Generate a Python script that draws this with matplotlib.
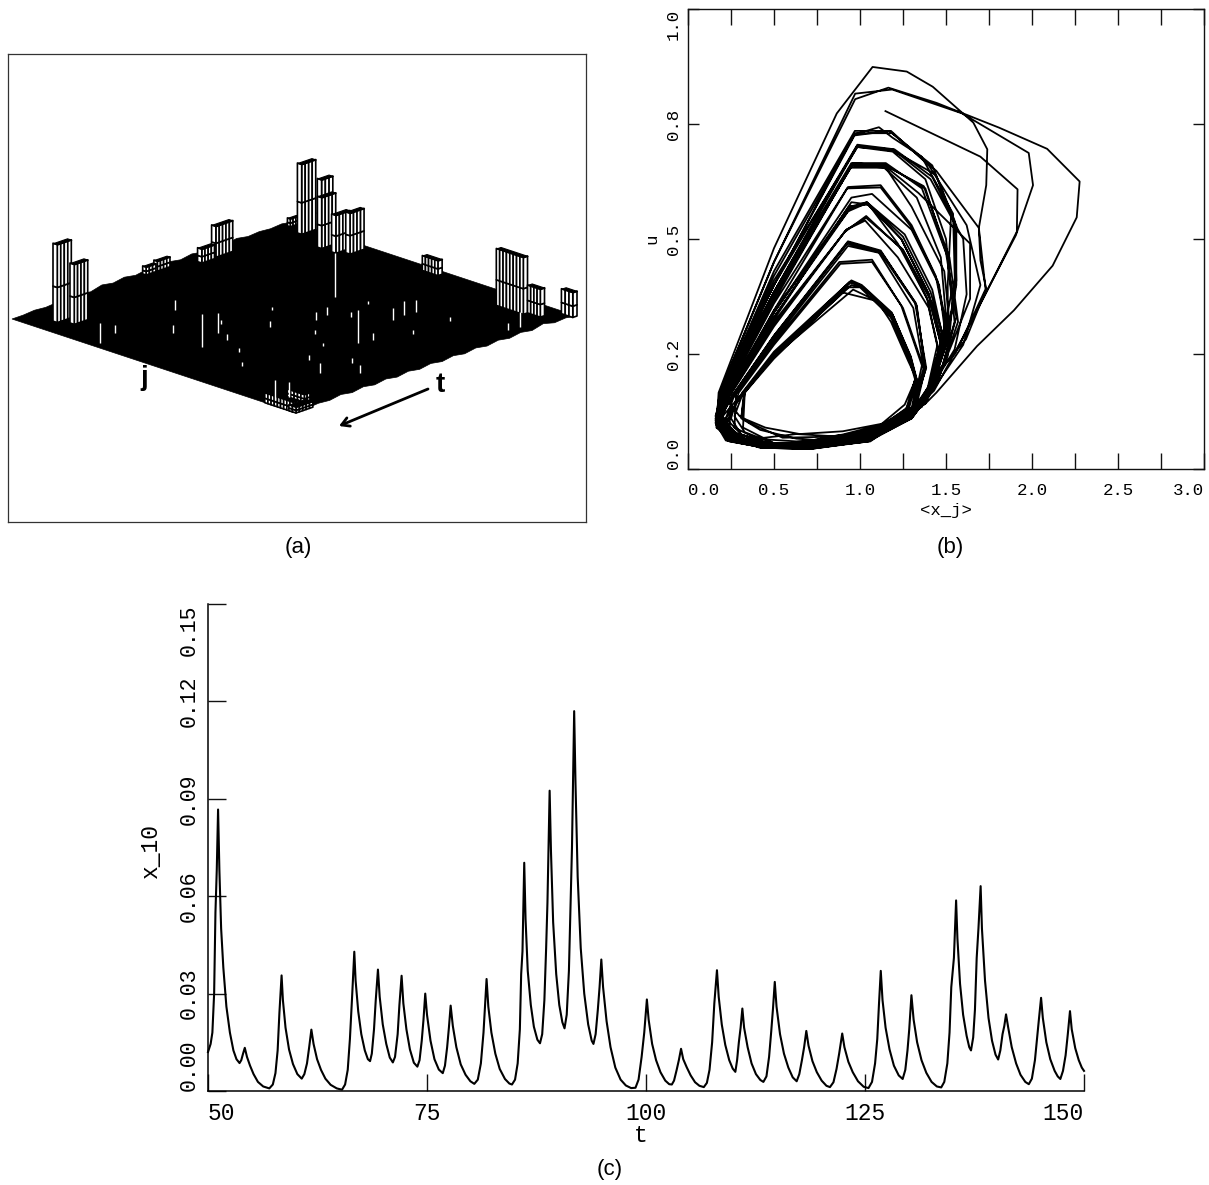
import numpy as np
import matplotlib
matplotlib.use("Agg")
import matplotlib.pyplot as plt
from matplotlib.collections import PolyCollection

W, H = 1209, 1185
MONO = ["Liberation Mono", "DejaVu Sans Mono"]
SANS = ["Liberation Sans", "DejaVu Sans"]
INK = "#111111"

# ---------- panel (c): x_10 against t ----------
t_vals = [50,50.3,50.5,50.7,50.85,51.0,51.15,
 51.3,51.5,51.75,52.1,52.5,52.9,53.25,53.6,53.8,54.0,54.2,54.45,54.8,55.2,55.7,56.3,57,57.4,57.7,57.95,58.15,58.4,
 58.55,58.85,59.25,59.7,60.2,60.7,61.0,61.3,61.55,61.8,
 62.05,62.45,62.9,63.4,64.0,64.7,65.3,65.65,65.95,66.2,66.45,66.7,
 66.85,67.15,67.5,67.9,68.25,68.5,68.7,68.95,69.15,69.4,
 69.6,69.95,70.35,70.75,71.1,71.35,71.65,71.85,72.1,
 72.3,72.65,73.05,73.5,73.9,74.15,74.4,74.6,74.8,
 75.0,75.4,75.85,76.35,76.8,77.05,77.3,77.5,77.7,
 77.95,78.35,78.85,79.4,79.95,80.4,80.8,81.15,81.45,81.6,81.8,
 82.0,82.35,82.8,83.3,83.9,84.4,84.7,85.05,85.35,85.6,85.75,85.9,86.1,
 86.25,86.5,86.85,87.2,87.6,87.9,88.15,88.4,88.6,88.75,88.85,89.0,
 89.15,89.4,89.75,90.1,90.45,90.7,90.95,91.2,91.4,91.55,91.65,91.8,
 91.95,92.2,92.55,92.95,93.4,93.8,94.0,94.25,94.5,94.7,94.9,
 95.1,95.5,95.95,96.5,97.1,97.7,98.3,98.8,99.15,99.5,99.8,100.1,
 100.3,100.7,101.15,101.65,102.2,102.65,102.95,103.2,103.5,103.75,104.0,
 104.25,104.65,105.1,105.6,106.1,106.6,106.95,107.25,107.55,107.8,108.1,
 108.3,108.65,109.05,109.5,109.9,110.2,110.4,110.6,110.8,111.0,
 111.2,111.6,112.05,112.55,113.05,113.4,113.75,114.05,114.3,114.5,114.7,
 114.9,115.3,115.75,116.25,116.75,117.2,117.5,117.8,118.05,118.3,
 118.55,119.0,119.5,120.05,120.6,121,121.4,121.75,122.05,122.4,
 122.65,123.1,123.6,124.2,124.85,125.4,125.8,126.15,126.4,126.6,126.8,
 127.0,127.35,127.8,128.3,128.85,129.3,129.6,129.85,130.05,130.3,
 130.55,130.95,131.45,132,132.6,133.2,133.7,134.05,134.4,134.65,134.85,135.15,135.4,
 135.55,135.85,136.2,136.6,136.9,137.1,137.35,137.55,137.75,137.95,138.2,
 138.35,138.7,139.1,139.5,139.9,140.2,140.45,140.7,140.9,141.1,
 141.35,141.75,142.25,142.75,143.3,143.7,144.05,144.4,144.65,144.85,145.1,
 145.3,145.7,146.15,146.65,147.0,147.3,147.6,147.9,148.15,148.4,
 148.6,149,149.4,149.75,150]
x10_vals = [.012,.0145,.018,.03,.055,.068,.0867,
 .068,.05,.038,.026,.018,.0125,.0098,.0086,.0095,.0115,.0133,.0105,.0078,.0052,.0028,.0014,.0008,.002,.0055,.0125,.024,.0356,
 .028,.0195,.0128,.0083,.0052,.0038,.0052,.0085,.0135,.0189,
 .0145,.0098,.0065,.0038,.0019,.0008,.0004,.002,.0065,.016,.029,.0429,
 .034,.0245,.0175,.0125,.0098,.0092,.0115,.019,.028,.0374,
 .029,.0205,.0145,.0103,.0088,.0105,.0175,.0265,.0355,
 .027,.019,.0128,.0087,.0075,.0095,.0155,.022,.03,
 .0235,.0155,.0098,.0066,.0055,.0078,.0135,.0195,.0263,
 .02,.0135,.0082,.005,.003,.0022,.0035,.0085,.018,.025,.0345,
 .026,.018,.0115,.0068,.0037,.0023,.002,.0035,.0085,.019,.036,.043,.0703,
 .053,.037,.0265,.0198,.0158,.0147,.0175,.028,.044,.058,.072,.0925,
 .074,.052,.036,.0265,.0212,.0193,.0235,.037,.058,.075,.092,.117,
 .095,.066,.044,.030,.0205,.0155,.0145,.0175,.025,.032,.0405,
 .032,.0215,.0135,.0072,.0035,.0017,.0009,.001,.0035,.0105,.018,.0282,
 .022,.0145,.0095,.0058,.0032,.0021,.002,.0032,.0065,.0095,.013,
 .0098,.0073,.0048,.0027,.0016,.0012,.0025,.0065,.015,.027,.0372,
 .029,.0205,.0142,.0095,.0069,.0059,.0095,.015,.0195,.0254,
 .0195,.0135,.0085,.0052,.0034,.0028,.0045,.0105,.0185,.0255,.0336,
 .026,.0175,.0115,.0072,.0042,.003,.0052,.0095,.0135,.0185,
 .014,.0092,.0058,.0032,.0016,.0012,.0027,.0068,.0115,.0177,
 .0135,.009,.0058,.003,.0013,.0009,.0028,.0085,.016,.027,.037,
 .028,.0195,.0128,.0078,.0048,.0037,.0065,.0125,.019,.0295,
 .022,.015,.0095,.0056,.0028,.0014,.0011,.0028,.0085,.018,.032,.041,.0587,
 .047,.033,.0235,.017,.0135,.0125,.0165,.025,.041,.05,.0631,
 .05,.034,.0225,.0155,.0112,.0097,.0125,.0175,.02,.0236,
 .0195,.0135,.0085,.005,.0028,.0021,.0038,.0095,.0165,.022,.0287,
 .0225,.015,.0098,.0062,.0045,.0037,.0062,.011,.0175,.0246,
 .019,.0132,.0095,.0072,.0062]
c_xticks = [50, 75, 100, 125, 150]
c_yticks = [0.00, 0.03, 0.06, 0.09, 0.12, 0.15]
c_yticklabels = ["0.00", "0.03", "0.06", "0.09", "0.12", "0.15"]

# ---------- panel (b): phase portrait u against <x_j> ----------
orbit_x = [
 1.148,1.70,1.916,1.912,1.723,1.55,1.42,1.38,1.28,1.05,.75,.45,.25,.165,
 .178,.5,.865,1.073,1.272,1.423,1.659,1.74,1.734,1.691,1.70,1.734,1.616,1.423,1.33,1.06,.7,.42,.24,.16,
 .185,.5,.972,1.165,1.444,1.809,2.088,2.277,2.26,2.12,1.895,1.68,1.444,1.38,1.26,1.04,.72,.46,.26,.165,
 .185,.5,.972,1.187,1.594,1.981,2.006,1.906,1.723,1.552,1.444,1.36,1.2,1.0,.8,.5,.28,.17,
 .20,.5,.972,1.11,1.19,1.358,1.541,1.551,1.509,1.42,1.3,1.03,.75,.45,.26,.165,
 .20,.5,.97,1.187,1.444,1.691,1.73,1.594,1.43,1.32,1.08,.78,.5,.27,.17,
 .205,.5,.983,1.197,1.44,1.53,1.51,1.51,1.41,1.3,1.05,.72,.44,.26,.17,
 .205,.5,.983,1.19,1.41,1.60,1.62,1.55,1.42,1.31,1.02,.7,.46,.27,.175,
 .215,.5,.95,1.144,1.38,1.51,1.55,1.465,1.40,1.3,1.06,.74,.48,.28,.18,
 .215,.5,.96,1.14,1.34,1.64,1.64,1.5,1.41,1.32,1.1,.8,.5,.28,.18,
 .215,.5,.95,1.15,1.30,1.49,1.52,1.44,1.38,1.27,1.0,.7,.45,.27,.18,
 .23,.5,.93,1.12,1.30,1.44,1.50,1.42,1.34,1.16,.9,.63,.4,.26,.18,
 .235,.5,.95,1.07,1.30,1.46,1.50,1.41,1.33,1.1,.85,.6,.42,.27,.19,
 .24,.5,.94,1.04,1.26,1.42,1.48,1.40,1.3,1.05,.72,.48,.3,.2,
 .24,.5,.93,1.04,1.24,1.40,1.47,1.40,1.34,1.2,.95,.63,.38,.26,.2,
 .245,.5,.95,1.05,1.22,1.39,1.45,1.39,1.3,1.02,.7,.44,.28,.2,
 .25,.5,.92,1.036,1.25,1.42,1.49,1.39,1.33,1.12,.86,.55,.34,.24,
 .255,.5,.92,1.03,1.22,1.40,1.46,1.39,1.29,1.0,.72,.5,.31,.22,
 .275,.5,.93,1.12,1.326,1.38,1.33,1.16,.9,.63,.4,.27,
 .28,.5,.93,1.11,1.31,1.375,1.3,1.05,.78,.48,.31,.25,
 .295,.5,.886,1.07,1.25,1.37,1.31,1.08,.8,.5,.33,.27,
 .32,.5,.94,1.0,1.187,1.294,1.326,1.26,1.1,.86,.63,.42,.31,
 .325,.5,.95,1.02,1.19,1.29,1.33,1.3,1.02,.74,.5,.32,
 .33,.5,.96,1.1,1.18,1.28,1.33,1.28,1.15,.9,.65,.45,.31,
 .33,.5,.897,1.10,1.19,1.29,1.33,1.27,1.06,.8,.55,.36,.3,
 .19,.5,.97,1.18,1.40,1.62,1.70,1.60,1.42,1.30,1.02,.7,.42,.22,.16,
 .20,.5,.985,1.2,1.42,1.56,1.56,1.50,1.40,1.3,1.05,.72,.44,.23,.165,
 .21,.5,.95,1.15,1.36,1.5,1.56,1.47,1.39,1.28,1.03,.7,.42,.24,.165,
 .21,.5,.955,1.145,1.37,1.52,1.57,1.46,1.38,1.27,1.0,.68,.4,.23,.17,
 .235,.5,.94,1.04,1.25,1.41,1.49,1.40,1.3,1.05,.72,.44,.24,.17,
 .24,.5,.935,1.045,1.24,1.40,1.47,1.40,1.3,1.04,.7,.42,.23,.17,
 .245,.5,.91,1.036,1.25,1.41,1.48,1.39,1.3,1.03,.7,.44,.25,.18,
 .27,.5,.93,1.12,1.32,1.385,1.31,1.06,.74,.46,.26,.18,
 .27,.5,.925,1.12,1.33,1.38,1.3,1.03,.7,.44,.26,.19,
 .32,.5,.945,1.0,1.19,1.295,1.33,1.28,1.04,.72,.46,.3,.22,
 .315,.5,.95,1.01,1.185,1.29,1.325,1.26,1.0,.7,.44,.28,.2,
 .325,.5,.93,1.0,1.18,1.285,1.32,1.27,1.02,.72,.44,.26,.19,
 .195,.5,.965,1.17,1.42,1.55,1.56,1.5,1.41,1.3,1.04,.7,.43,.22,.16,
 .2,.5,.985,1.19,1.38,1.5,1.53,1.47,1.4,1.3,1.03,.72,.42,.22,.16,
 .22,.5,.945,1.14,1.33,1.47,1.5,1.44,1.38,1.27,1.01,.7,.42,.23,.165,
 .225,.5,.925,1.12,1.3,1.45,1.51,1.42,1.35,1.22,1.0,.7,.42,.22,.165,
 .285,.5,.88,1.07,1.24,1.36,1.3,1.04,.72,.46,.28,.2,
]
orbit_y = [
 .778,.679,.608,.516,.376,.251,.197,.142,.12,.068,.048,.052,.064,.09,
 .166,.48,.773,.874,.864,.831,.753,.695,.617,.524,.454,.391,.282,.197,.13,.06,.046,.053,.07,.105,
 .166,.45,.804,.829,.796,.742,.696,.625,.547,.442,.345,.267,.166,.142,.115,.075,.05,.05,.063,.1,
 .166,.45,.816,.825,.773,.687,.617,.508,.376,.251,.212,.135,.105,.07,.052,.05,.06,.09,
 .166,.40,.728,.743,.72,.679,.555,.415,.244,.17,.125,.08,.052,.052,.066,.1,
 .166,.40,.73,.73,.648,.524,.391,.282,.17,.13,.085,.058,.055,.068,.1,
 .166,.385,.703,.691,.64,.555,.40,.28,.17,.12,.072,.05,.05,.064,.1,
 .166,.385,.70,.695,.63,.50,.38,.26,.18,.125,.07,.048,.048,.066,.105,
 .166,.37,.662,.662,.61,.46,.32,.205,.16,.115,.075,.052,.054,.068,.105,
 .166,.37,.665,.66,.60,.49,.37,.24,.165,.13,.09,.062,.052,.07,.11,
 .166,.365,.66,.655,.57,.43,.32,.2,.15,.105,.062,.05,.05,.066,.105,
 .166,.345,.613,.617,.53,.42,.31,.19,.14,.1,.075,.056,.052,.07,.11,
 .166,.34,.59,.598,.52,.40,.28,.18,.13,.09,.068,.055,.056,.07,.11,
 .166,.33,.57,.58,.51,.39,.29,.18,.12,.075,.05,.052,.07,.11,
 .166,.33,.56,.578,.50,.38,.28,.17,.135,.1,.07,.06,.066,.08,.115,
 .166,.325,.58,.575,.49,.37,.27,.17,.125,.072,.05,.05,.072,.115,
 .166,.315,.52,.546,.477,.36,.26,.17,.13,.09,.065,.05,.062,.09,
 .166,.31,.52,.54,.46,.35,.25,.17,.12,.072,.05,.052,.075,.11,
 .166,.285,.493,.473,.36,.22,.14,.1,.07,.076,.066,.09,
 .166,.28,.485,.47,.35,.21,.13,.075,.05,.054,.075,.11,
 .166,.27,.446,.45,.35,.22,.135,.08,.055,.056,.08,.115,
 .166,.25,.407,.40,.337,.244,.197,.14,.09,.06,.066,.085,.11,
 .166,.245,.40,.395,.33,.24,.19,.13,.07,.05,.056,.09,
 .166,.245,.39,.365,.32,.235,.195,.135,.1,.082,.076,.09,.112,
 .166,.24,.384,.365,.325,.24,.19,.13,.08,.07,.068,.1,.115,
 .166,.43,.735,.735,.66,.53,.40,.27,.17,.115,.06,.044,.048,.062,.10,
 .166,.40,.705,.695,.635,.53,.40,.27,.16,.11,.06,.044,.046,.062,.1,
 .166,.385,.665,.665,.61,.47,.33,.21,.15,.11,.062,.045,.048,.06,.095,
 .166,.38,.66,.66,.615,.46,.32,.2,.15,.105,.06,.044,.05,.065,.1,
 .166,.345,.565,.58,.505,.385,.28,.18,.125,.07,.046,.048,.066,.105,
 .166,.34,.57,.575,.50,.38,.27,.17,.125,.068,.045,.048,.066,.11,
 .166,.32,.515,.55,.475,.355,.26,.17,.12,.066,.045,.05,.066,.11,
 .166,.29,.495,.475,.362,.22,.13,.07,.046,.05,.066,.105,
 .166,.29,.49,.47,.355,.215,.125,.065,.045,.05,.066,.11,
 .166,.25,.405,.40,.335,.245,.195,.125,.066,.045,.05,.066,.1,
 .166,.255,.41,.40,.34,.245,.2,.12,.062,.045,.05,.062,.1,
 .166,.245,.395,.395,.33,.24,.195,.12,.062,.045,.05,.066,.11,
 .166,.42,.725,.735,.66,.54,.41,.27,.165,.11,.06,.044,.046,.07,.115,
 .166,.41,.70,.69,.63,.5,.38,.26,.16,.11,.06,.044,.046,.07,.11,
 .166,.375,.655,.655,.59,.46,.33,.21,.15,.105,.06,.044,.048,.065,.1,
 .166,.36,.61,.612,.525,.41,.3,.19,.14,.1,.06,.045,.05,.07,.11,
 .166,.275,.45,.455,.355,.225,.125,.062,.045,.05,.062,.1,
]
b_ticks_x = [0,.25,.5,.75,1,1.25,1.5,1.75,2,2.25,2.5,2.75,3]
b_labels_x = ["0.0","","0.5","","1.0","","1.5","","2.0","","2.5","","3.0"]
b_ticks_y = [0,.25,.5,.75,1]
b_labels_y = ["0.0","0.2","0.5","0.8","1.0"]

# ---------- panel (a): surface over the (t, j) plane ----------
peak_u0 = [.06,.08,.505,.465,.625,.68,.95,.94,.91,.91,.93,.97,.97,.915,.93,.985,0,0,.07]
peak_u1 = [.11,.128,.55,.50,.67,.74,1.0,.98,.96,.96,.98,1.0,.985,.93,.945,1.0,.02,.06,.09]
peak_v0 = [.085,.125,0,0,.035,.03,.065,.145,.175,.225,.255,.01,.485,.80,.895,.96,.89,.975,.90]
peak_v1 = [.10,.14,.012,.012,.05,.045,.08,.16,.19,.24,.27,.02,.54,.895,.94,1.0,.99,1.0,.96]
peak_h = [78,60,10,8,14,31,70,63,51,38,41,8,15,57,28,25,10,6,8]
spike_u = [.678,.476,.184,.285,.331,.407,.57,.524,.658,.704,.741,.518,.252,.032,.072,.322,.027,.106,.806,.843,.264,.207,
           .34,.45,.60,.40,.22,.30,.62,.75,.50,.15,.36,.70]
spike_v = [.466,.747,.487,.443,.246,.505,.545,.552,.69,.684,.69,.758,.835,.895,.904,.907,.283,.258,.949,.955,.496,.362,
           .40,.62,.60,.70,.58,.75,.80,.80,.42,.66,.84,.56]
spike_h = [44,33,33,20,10,6,8,8,12,14,12,7,10,20,15,8,20,8,7,15,6,8,
           4,4,5,3,4,5,4,4,3,4,5,3]
back_ripple = [0,0,1,0,1,0,2,0,3,1,3,1,3,1,3,1,3,1,3,1,3,1,2,1,2,0]
front_ripple = [0,2,1,4,1,3,1,3,1,3,1,3,1,3,1,3,1,3,1,3,1,3,1,2,1,0]

CAPTIONS = ["(a)", "(b)", "(c)"]

fig = plt.figure(figsize=(W / 100, H / 100), dpi=100, facecolor="white")


def axes_px(left, top, right, bottom):
    return fig.add_axes([left / W, 1 - bottom / H, (right - left) / W, (bottom - top) / H])


# ---- (a)
axa = axes_px(8, 54, 586, 522)
axa.set_xlim(8, 586)
axa.set_ylim(522, 54)
axa.set_xticks([])
axa.set_yticks([])
for s in axa.spines.values():
    s.set_linewidth(0.9)
    s.set_color("#333333")


def project(u, v, z=0.0):
    return (12 + 281 * np.asarray(u) + 284 * np.asarray(v), 319 - 97 * np.asarray(u) + 94 * np.asarray(v) - z)


us = np.linspace(0, 1, len(back_ripple))
back = np.column_stack(project(us, 0 * us, np.array(back_ripple, float)))
front = np.column_stack(project(us[::-1], 0 * us + 1, np.array(front_ripple, float)))
axa.fill(np.r_[back[:, 0], front[:, 0]], np.r_[back[:, 1], front[:, 1]], color="black", lw=0.5, zorder=1)

order = np.argsort(np.array(peak_v1) - np.array(peak_u0))
zo = 2
for i in order:
    u0, u1, v0, v1, h = peak_u0[i], peak_u1[i], peak_v0[i], peak_v1[i], peak_h[i]
    polys = []
    levels = [0, 0.45 * h, h]
    n_u = max(1, int(round((u1 - u0) / 0.0115)))
    n_v = max(1, int(round((v1 - v0) / 0.0115)))
    for a, b in zip(levels[:-1], levels[1:]):
        for k in range(n_u):
            ua, ub = u0 + (u1 - u0) * k / n_u, u0 + (u1 - u0) * (k + 1) / n_u
            polys.append([project(ua, v1, a), project(ub, v1, a), project(ub, v1, b), project(ua, v1, b)])
        for k in range(n_v):
            va, vb = v0 + (v1 - v0) * k / n_v, v0 + (v1 - v0) * (k + 1) / n_v
            polys.append([project(u0, va, a), project(u0, vb, a), project(u0, vb, b), project(u0, va, b)])
    axa.add_collection(PolyCollection(polys, facecolors="white", edgecolors="black", linewidths=1.2, zorder=zo))
    top = [project(u0, v0, h), project(u1, v0, h), project(u1, v1, h), project(u0, v1, h)]
    axa.add_collection(PolyCollection([top], facecolors="black", edgecolors="black", linewidths=0.8, zorder=zo))
    zo += 1

for u, v, h in zip(spike_u, spike_v, spike_h):
    x0, y0 = project(u, v, 0)
    axa.plot([x0, x0], [y0, y0 - h], color="white", lw=1.0, zorder=zo, solid_capstyle="butt")

axa.text(144, 378, "j", family=SANS, weight="bold", fontsize=20, ha="center", va="center", zorder=zo + 1)
axa.text(440, 385, "t", family=SANS, weight="bold", fontsize=20, ha="center", va="center", zorder=zo + 1)
axa.annotate("", xy=(339, 426), xytext=(428, 389),
             arrowprops=dict(arrowstyle="->,head_length=0.55,head_width=0.32", color="black", lw=2.0,
                             shrinkA=0, shrinkB=0))

# ---- (b)
axb = axes_px(688, 9, 1204, 469)
axb.set_xlim(0, 3)
axb.set_ylim(0, 1)
axb.plot(orbit_x, orbit_y, color="black", lw=1.3, solid_joinstyle="round")
axb.set_xticks(b_ticks_x)
axb.set_xticklabels(b_labels_x, family=MONO, fontsize=12.5)
axb.set_yticks(b_ticks_y)
axb.set_yticklabels(b_labels_y, family=MONO, fontsize=12.5, rotation=90, va="center")
axb.tick_params(axis="x", direction="in", length=11.5, width=1.0, top=True, pad=10, color=INK)
axb.tick_params(axis="y", direction="in", length=8, width=1.0, right=True, pad=5, color=INK)
xl = axb.get_xticklabels()
xl[0].set_ha("left")
xl[-1].set_ha("right")
yl = axb.get_yticklabels()
yl[0].set_va("bottom")
yl[-1].set_va("top")
for s in axb.spines.values():
    s.set_linewidth(1.0)
    s.set_color(INK)
fig.text(946 / W, 1 - 510 / H, "<x_j>", family=MONO, fontsize=12.5, ha="center", va="center")
fig.text(652 / W, 1 - 239 / H, "u", family=MONO, fontsize=12.5, rotation=90, ha="center", va="center")

# ---- (c)
axc = axes_px(208, 604, 1084, 1091)
axc.set_xlim(50, 150)
axc.set_ylim(0, 0.15)
axc.plot(t_vals, x10_vals, color="black", lw=1.5, solid_joinstyle="round", clip_on=False)
axc.set_xticks(c_xticks)
axc.set_xticklabels([str(v) for v in c_xticks], family=MONO, fontsize=16.5)
axc.set_yticks(c_yticks)
axc.set_yticklabels(c_yticklabels, family=MONO, fontsize=15.5, rotation=90, va="center")
axc.tick_params(axis="x", direction="in", length=12, width=1.0, pad=8, color=INK)
axc.tick_params(axis="y", direction="in", length=13, width=1.0, pad=6, color=INK)
xl = axc.get_xticklabels()
xl[0].set_ha("left")
xl[-1].set_ha("right")
yl = axc.get_yticklabels()
yl[0].set_va("bottom")
yl[-1].set_va("top")
axc.spines["top"].set_visible(False)
axc.spines["right"].set_visible(False)
axc.spines["left"].set_linewidth(1.1)
axc.spines["bottom"].set_linewidth(1.1)
fig.text(641 / W, 1 - 1135 / H, "t", family=MONO, fontsize=16.5, ha="center", va="center")
fig.text(150 / W, 1 - 851 / H, "x_10", family=MONO, fontsize=16.5, rotation=90, ha="center", va="center")

# captions
for lab, cx, cy in zip(CAPTIONS, [298, 950, 610], [547, 547, 1170]):
    fig.text(cx / W, 1 - cy / H, lab, family=SANS, fontsize=16, ha="center", va="center")

fig.savefig("out.png", dpi=100)
